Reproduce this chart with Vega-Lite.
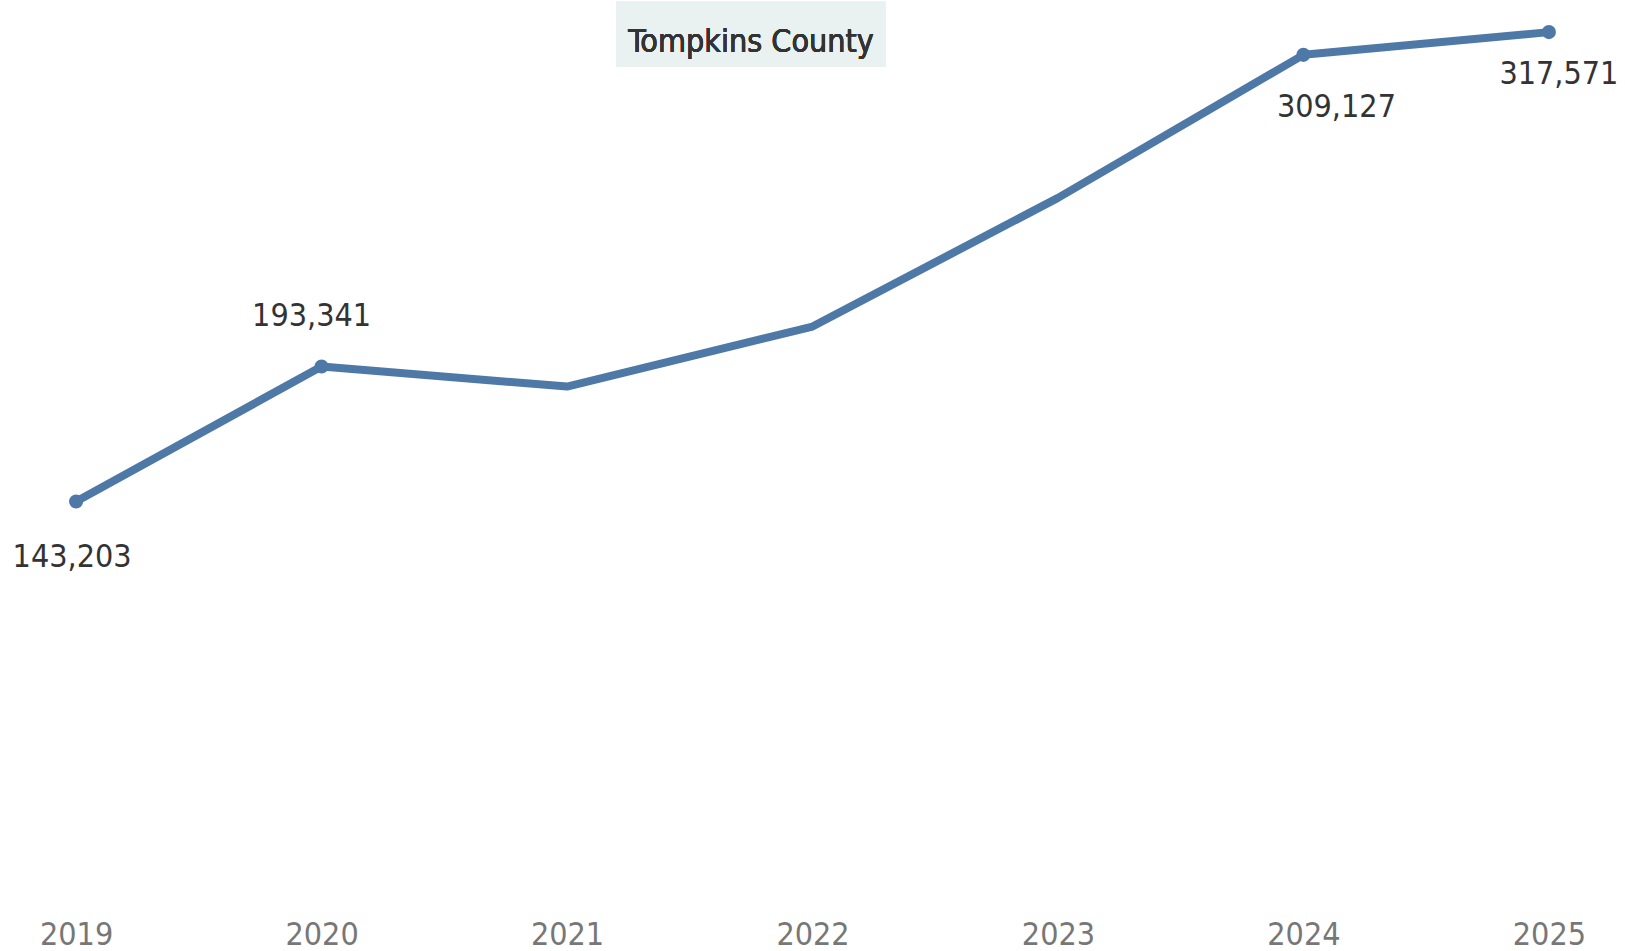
{
  "$schema": "https://vega.github.io/schema/vega-lite/v6.json",
  "width": 1625,
  "height": 887,
  "autosize": "none",
  "padding": {"left": 0, "right": 0, "top": 0, "bottom": 64},
  "background": "white",
  "config": {"view": {"stroke": null}},
  "data": {"values": [
    {"year": "2019", "value": 143203},
    {"year": "2020", "value": 193341},
    {"year": "2021", "value": 185900},
    {"year": "2022", "value": 208200},
    {"year": "2023", "value": 256000},
    {"year": "2024", "value": 309127},
    {"year": "2025", "value": 317571}
  ]},
  "encoding": {
    "x": {
      "field": "year", "type": "ordinal",
      "scale": {"type": "point", "padding": 0.31},
      "axis": {
        "title": null, "domain": false, "ticks": false, "tickSize": 0, "grid": false,
        "labelPadding": 32, "labelAngle": 0,
        "labelFont": "DejaVu Sans Condensed, Liberation Sans", "labelFontSize": 32, "labelColor": "#777777"
      }
    },
    "y": {
      "field": "value", "type": "quantitative",
      "scale": {"domain": [0, 329500], "nice": false, "zero": true},
      "axis": null
    }
  },
  "layer": [
    {
      "mark": {"type": "rect", "color": "#e9f1f1", "xOffset": 49, "x2Offset": 73},
      "encoding": {
        "x": {"datum": "2021"},
        "x2": {"datum": "2022"},
        "y": {"datum": 328870},
        "y2": {"datum": 304720}
      }
    },
    {
      "mark": {"type": "text", "text": "Tompkins County", "font": "DejaVu Sans Condensed, Liberation Sans", "fontSize": 32, "color": "#333333", "align": "center", "baseline": "alphabetic", "dx": 184},
      "encoding": {
        "x": {"datum": "2021"},
        "y": {"datum": 310300}
      }
    },
    {
      "mark": {"type": "line", "color": "#4e79a7", "strokeWidth": 8, "strokeJoin": "round", "strokeCap": "round"}
    },
    {
      "transform": [{"filter": "datum.year == '2019' || datum.year == '2020' || datum.year == '2024' || datum.year == '2025'"}],
      "mark": {"type": "point", "filled": true, "opacity": 1, "color": "#4e79a7", "size": 200}
    },
    {
      "transform": [{"filter": "datum.year == '2019'"}],
      "mark": {"type": "text", "font": "DejaVu Sans Condensed, Liberation Sans", "fontSize": 32, "color": "#333333", "align": "center", "baseline": "alphabetic", "dx": -4, "dy": 65},
      "encoding": {"text": {"field": "value", "type": "quantitative", "format": ","}}
    },
    {
      "transform": [{"filter": "datum.year == '2020'"}],
      "mark": {"type": "text", "font": "DejaVu Sans Condensed, Liberation Sans", "fontSize": 32, "color": "#333333", "align": "center", "baseline": "alphabetic", "dx": -10, "dy": -41},
      "encoding": {"text": {"field": "value", "type": "quantitative", "format": ","}}
    },
    {
      "transform": [{"filter": "datum.year == '2024'"}],
      "mark": {"type": "text", "font": "DejaVu Sans Condensed, Liberation Sans", "fontSize": 32, "color": "#333333", "align": "center", "baseline": "alphabetic", "dx": 33, "dy": 62},
      "encoding": {"text": {"field": "value", "type": "quantitative", "format": ","}}
    },
    {
      "transform": [{"filter": "datum.year == '2025'"}],
      "mark": {"type": "text", "font": "DejaVu Sans Condensed, Liberation Sans", "fontSize": 32, "color": "#333333", "align": "center", "baseline": "alphabetic", "dx": 10, "dy": 52},
      "encoding": {"text": {"field": "value", "type": "quantitative", "format": ","}}
    }
  ]
}
